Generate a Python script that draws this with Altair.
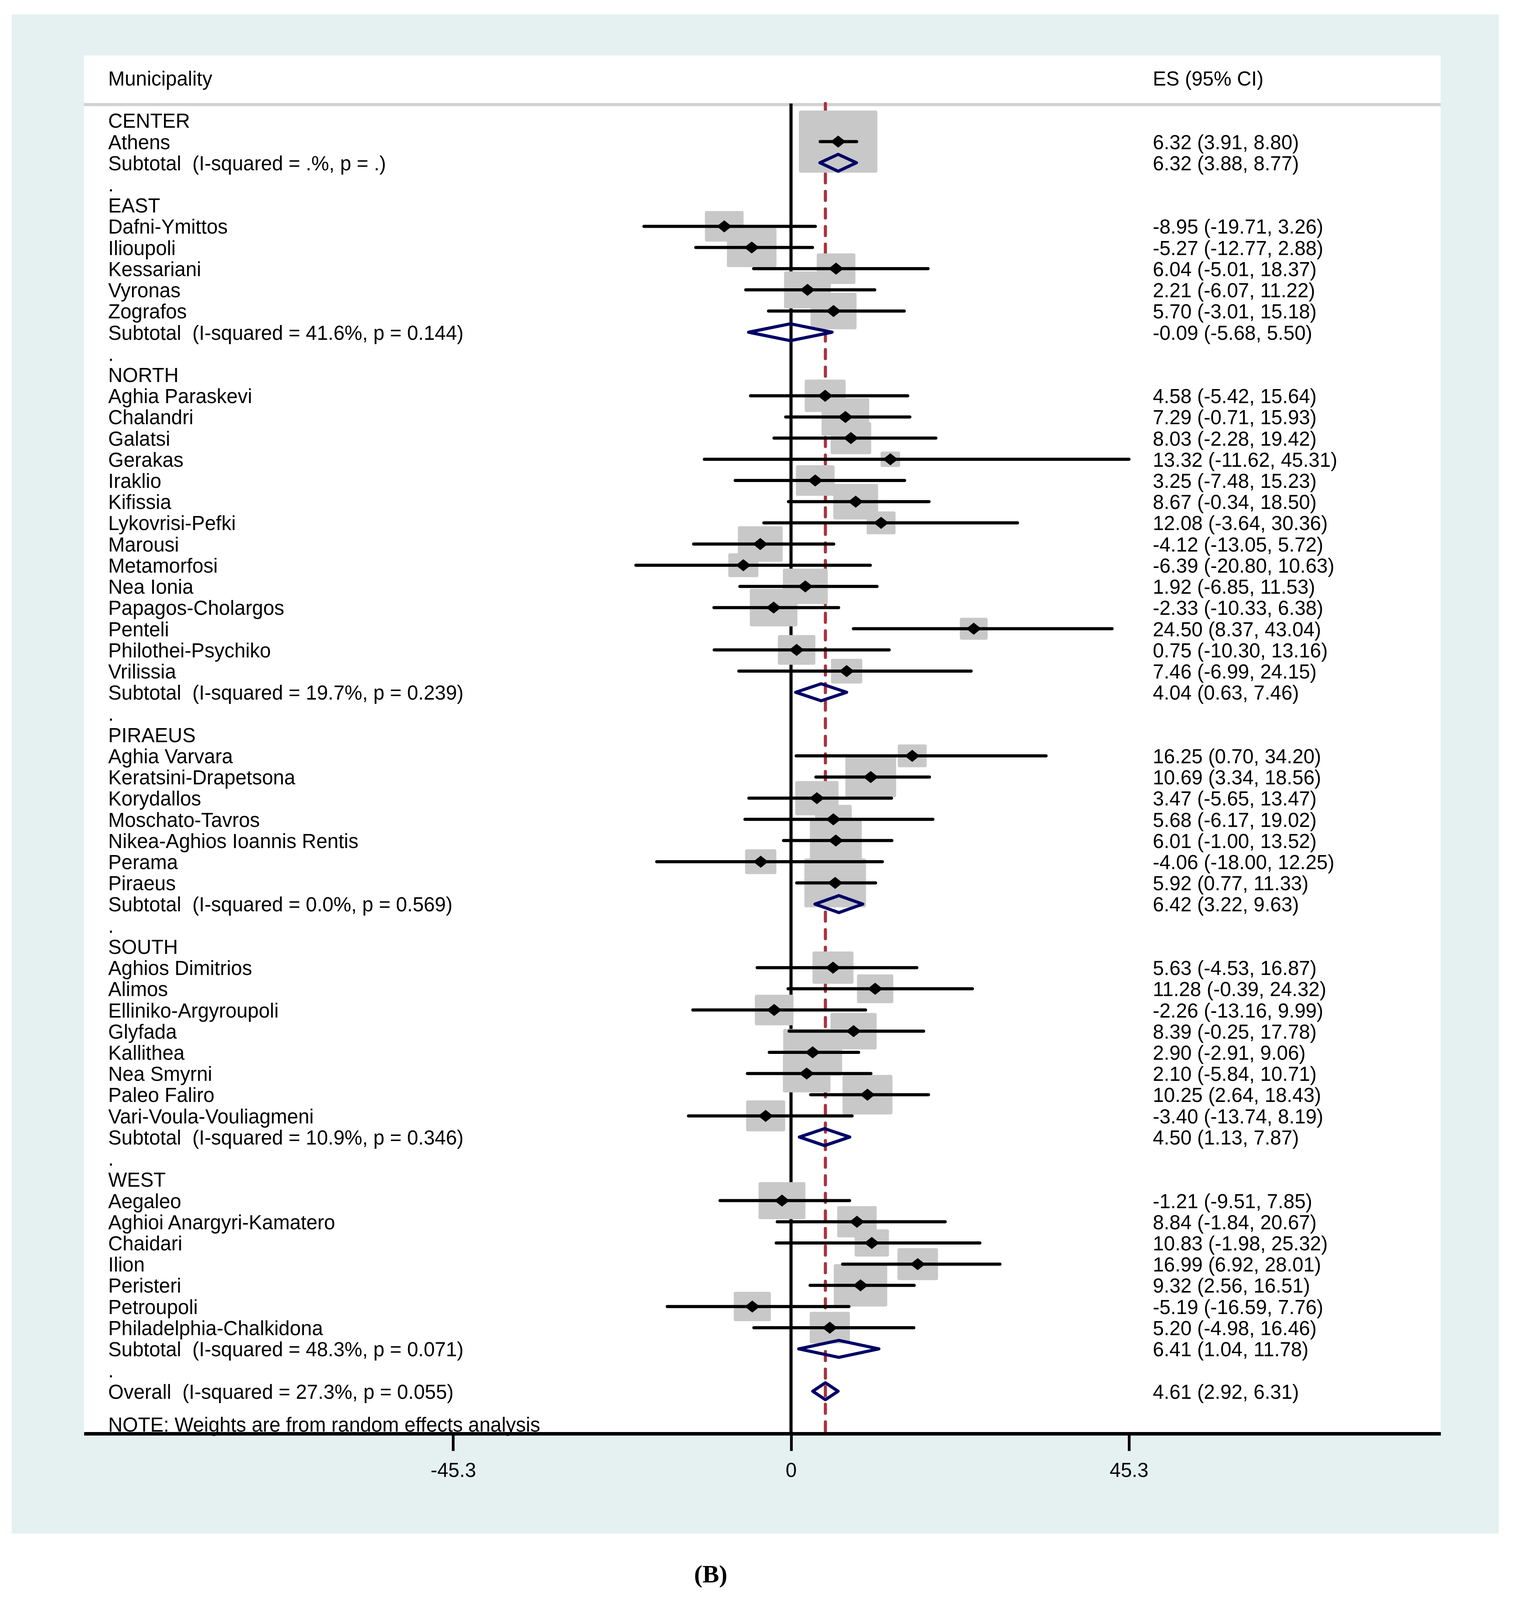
import math
import altair as alt
import pandas as pd

# ---------------- data ----------------
regions = ["CENTER", "EAST", "NORTH", "PIRAEUS", "SOUTH", "WEST"]

study_region = (["CENTER"] + ["EAST"] * 5 + ["NORTH"] * 14 + ["PIRAEUS"] * 7
                + ["SOUTH"] * 8 + ["WEST"] * 7)
study_name = [
    "Athens",
    "Dafni-Ymittos", "Ilioupoli", "Kessariani", "Vyronas", "Zografos",
    "Aghia Paraskevi", "Chalandri", "Galatsi", "Gerakas", "Iraklio", "Kifissia",
    "Lykovrisi-Pefki", "Marousi", "Metamorfosi", "Nea Ionia", "Papagos-Cholargos",
    "Penteli", "Philothei-Psychiko", "Vrilissia",
    "Aghia Varvara", "Keratsini-Drapetsona", "Korydallos", "Moschato-Tavros",
    "Nikea-Aghios Ioannis Rentis", "Perama", "Piraeus",
    "Aghios Dimitrios", "Alimos", "Elliniko-Argyroupoli", "Glyfada", "Kallithea",
    "Nea Smyrni", "Paleo Faliro", "Vari-Voula-Vouliagmeni",
    "Aegaleo", "Aghioi Anargyri-Kamatero", "Chaidari", "Ilion", "Peristeri",
    "Petroupoli", "Philadelphia-Chalkidona",
]
study_es = [
    6.32,
    -8.95, -5.27, 6.04, 2.21, 5.70,
    4.58, 7.29, 8.03, 13.32, 3.25, 8.67, 12.08, -4.12, -6.39, 1.92, -2.33, 24.50, 0.75, 7.46,
    16.25, 10.69, 3.47, 5.68, 6.01, -4.06, 5.92,
    5.63, 11.28, -2.26, 8.39, 2.90, 2.10, 10.25, -3.40,
    -1.21, 8.84, 10.83, 16.99, 9.32, -5.19, 5.20,
]
study_lo = [
    3.91,
    -19.71, -12.77, -5.01, -6.07, -3.01,
    -5.42, -0.71, -2.28, -11.62, -7.48, -0.34, -3.64, -13.05, -20.80, -6.85, -10.33, 8.37, -10.30, -6.99,
    0.70, 3.34, -5.65, -6.17, -1.00, -18.00, 0.77,
    -4.53, -0.39, -13.16, -0.25, -2.91, -5.84, 2.64, -13.74,
    -9.51, -1.84, -1.98, 6.92, 2.56, -16.59, -4.98,
]
study_hi = [
    8.80,
    3.26, 2.88, 18.37, 11.22, 15.18,
    15.64, 15.93, 19.42, 45.31, 15.23, 18.50, 30.36, 5.72, 10.63, 11.53, 6.38, 43.04, 13.16, 24.15,
    34.20, 18.56, 13.47, 19.02, 13.52, 12.25, 11.33,
    16.87, 24.32, 9.99, 17.78, 9.06, 10.71, 18.43, 8.19,
    7.85, 20.67, 25.32, 28.01, 16.51, 7.76, 16.46,
]
# estimated random-effects weights (%)
study_weight = [
    7.74,
    1.88, 3.09, 1.88, 2.76, 2.67,
    2.11, 2.85, 2.07, 0.48, 1.88, 2.53, 1.05, 2.53, 1.14, 2.53, 2.85, 0.97, 1.77, 1.23,
    1.05, 3.24, 2.36, 1.69, 3.39, 1.23, 4.78,
    2.11, 1.66, 1.88, 2.67, 4.37, 2.85, 3.14, 1.92,
    2.76, 1.96, 1.48, 2.07, 3.60, 1.73, 2.03,
]

sub_es = [6.32, -0.09, 4.04, 6.42, 4.50, 6.41]
sub_lo = [3.88, -5.68, 0.63, 3.22, 1.13, 1.04]
sub_hi = [8.77, 5.50, 7.46, 9.63, 7.87, 11.78]
sub_i2 = [None, 41.6, 19.7, 0.0, 10.9, 48.3]
sub_p = [None, 0.144, 0.239, 0.569, 0.346, 0.071]

overall_es, overall_lo, overall_hi = 4.61, 2.92, 6.31
overall_i2, overall_p = 27.3, 0.055

ticks = [-45.3, 0, 45.3]
header_left = "Municipality"
header_right = "ES (95% CI)"
note_text = "NOTE: Weights are from random effects analysis"
caption_text = "(B)"

# ---------------- layout / style constants ----------------
FONT = "Liberation Sans"
FS = 51
W, H = 3474, 3528                 # plot (white) area
X_DOMAIN = [-94.8, 87.1]
Y_DOMAIN = [-2.067, 63.0]         # row units, top -> bottom
PX_PER_X = W / (X_DOMAIN[1] - X_DOMAIN[0])
BOX_PX_PER_ROW = 68.58            # box side expressed in row units
BOX_AREA_100 = 521721.0           # px^2 of box area for 100 % weight
HEADER_ROW = -1
HEADER_LINE_ROW = 0.25
LINE_TOP_ROW = 0.2
NOTE_ROW = 62.55
DIAMOND_HALF = 0.4
PANEL = "#e5f1f1"
BOX = "#c8c8c8"
NAVY = "#000066"
RED = "#a9323b"


def fmt(v):
    return f"{v:.2f}"


def es_text(e, l, h):
    return f"{fmt(e)} ({fmt(l)}, {fmt(h)})"


# ---------------- build row table ----------------
label_rows = []
study_rows = []
pooled_rows = []
r = 1
for gi, reg in enumerate(regions):
    label_rows.append({"row": r, "label": reg, "es": ""})
    r += 1
    for i, name in enumerate(study_name):
        if study_region[i] != reg:
            continue
        side = math.sqrt(study_weight[i] / 100.0 * BOX_AREA_100)
        hx = side / 2 / PX_PER_X
        hr = side / 2 / BOX_PX_PER_ROW
        label_rows.append({"row": r, "label": name,
                           "es": es_text(study_es[i], study_lo[i], study_hi[i])})
        study_rows.append({"row": r, "es": study_es[i], "lo": study_lo[i],
                           "hi": study_hi[i], "w": study_weight[i],
                           "bx1": study_es[i] - hx, "bx2": study_es[i] + hx,
                           "by1": r - hr, "by2": r + hr})
        r += 1
    i2 = ".%" if sub_i2[gi] is None else f"{sub_i2[gi]:.1f}%"
    p = "." if sub_p[gi] is None else f"{sub_p[gi]:.3f}"
    label_rows.append({"row": r, "label": f"Subtotal \u00a0(I-squared = {i2}, p = {p})",
                       "es": es_text(sub_es[gi], sub_lo[gi], sub_hi[gi])})
    pooled_rows.append({"gid": reg, "row": r, "es": sub_es[gi],
                        "lo": sub_lo[gi], "hi": sub_hi[gi]})
    r += 1
    label_rows.append({"row": r, "label": ".", "es": ""})
    r += 1
label_rows.append({"row": r,
                   "label": f"Overall \u00a0(I-squared = {overall_i2:.1f}%, p = {overall_p:.3f})",
                   "es": es_text(overall_es, overall_lo, overall_hi)})
pooled_rows.append({"gid": "Overall", "row": r, "es": overall_es,
                    "lo": overall_lo, "hi": overall_hi})
label_rows.append({"row": HEADER_ROW, "label": header_left, "es": header_right})
label_rows.append({"row": NOTE_ROW, "label": note_text, "es": ""})

labels_df = pd.DataFrame(label_rows)
right_df = labels_df[labels_df["es"] != ""].reset_index(drop=True)
studies_df = pd.DataFrame(study_rows)

dia = []
for pr in pooled_rows:
    pts = [(pr["lo"], pr["row"]), (pr["es"], pr["row"] - DIAMOND_HALF),
           (pr["hi"], pr["row"]), (pr["es"], pr["row"] + DIAMOND_HALF),
           (pr["lo"], pr["row"])]
    for k, (xv, yv) in enumerate(pts):
        dia.append({"gid": pr["gid"], "pt": k, "x": xv, "y": yv})
dia_df = pd.DataFrame(dia)

vlines_df = pd.DataFrame({"x": [0.0], "y": [LINE_TOP_ROW], "y2": [Y_DOMAIN[1]]})
red_df = pd.DataFrame({"x": [overall_es], "y": [LINE_TOP_ROW], "y2": [Y_DOMAIN[1]]})
hline_df = pd.DataFrame({"y": [HEADER_LINE_ROW]})
one = pd.DataFrame({"t": [caption_text]})

# ---------------- scales ----------------
xs = alt.Scale(domain=X_DOMAIN, nice=False, zero=False)
ys = alt.Scale(domain=Y_DOMAIN, nice=False, zero=False, reverse=True)
XAX = alt.Axis(values=ticks, title=None, grid=False, zindex=2,
               domainColor="black", domainWidth=9, tickColor="black", tickWidth=7,
               tickSize=44, labelFont=FONT, labelFontSize=FS, labelColor="black",
               labelPadding=26, labelFlush=False, labelOverlap=False,
               labelExpr="datum.value < 0 ? '-' + format(-datum.value, '.1f') : "
                         "(datum.value == 0 ? '0' : format(datum.value, '.1f'))")

# ---------------- layers ----------------
panel = alt.Chart(one).mark_rect(color=PANEL).encode(
    x=alt.value(-185), x2=alt.value(W + 149), y=alt.value(-105), y2=alt.value(H + 256))
white = alt.Chart(one).mark_rect(color="white").encode(
    x=alt.value(0), x2=alt.value(W), y=alt.value(0), y2=alt.value(H))

hline = alt.Chart(hline_df).mark_rule(color="#d2d2d2", strokeWidth=8).encode(
    x=alt.value(0), x2=alt.value(W), y=alt.Y("y:Q", scale=ys, axis=None))

zero_line = alt.Chart(vlines_df).mark_rule(color="black", strokeWidth=8).encode(
    x=alt.X("x:Q", scale=xs, axis=XAX),
    y=alt.Y("y:Q", scale=ys, axis=None), y2="y2:Q")

red_line = alt.Chart(red_df).mark_rule(color=RED, strokeWidth=8, strokeDash=[23, 22],
                                       strokeCap="round").encode(
    x=alt.X("x:Q", scale=xs, axis=XAX),
    y=alt.Y("y:Q", scale=ys, axis=None), y2="y2:Q")

boxes = alt.Chart(studies_df).mark_rect(color=BOX, cornerRadius=4).encode(
    x=alt.X("bx1:Q", scale=xs, axis=XAX), x2="bx2:Q",
    y=alt.Y("by1:Q", scale=ys, axis=None), y2="by2:Q")

ci = alt.Chart(studies_df).mark_rule(color="black", strokeWidth=8, strokeCap="round").encode(
    x=alt.X("lo:Q", scale=xs, axis=XAX), x2="hi:Q",
    y=alt.Y("row:Q", scale=ys, axis=None))

pts = alt.Chart(studies_df).mark_point(shape="M-1,0L0,-0.8L1,0L0,0.8Z", filled=True,
                                       color="black", size=1500, opacity=1).encode(
    x=alt.X("es:Q", scale=xs, axis=XAX),
    y=alt.Y("row:Q", scale=ys, axis=None))

diamonds = alt.Chart(dia_df).mark_line(color=NAVY, strokeWidth=8, strokeJoin="round",
                                       strokeCap="round").encode(
    x=alt.X("x:Q", scale=xs, axis=XAX),
    y=alt.Y("y:Q", scale=ys, axis=None),
    detail="gid:N", order=alt.Order("pt:Q"))

left_text = alt.Chart(labels_df).mark_text(align="left", baseline="middle", dy=4,
                                           font=FONT, fontSize=FS, color="black").encode(
    x=alt.value(62), y=alt.Y("row:Q", scale=ys, axis=None), text="label:N")

right_text = alt.Chart(right_df).mark_text(align="left", baseline="middle", dy=4,
                                           font=FONT, fontSize=FS, color="black").encode(
    x=alt.value(2737), y=alt.Y("row:Q", scale=ys, axis=None), text="es:N")

caption = alt.Chart(one).mark_text(align="center", baseline="middle", font="Liberation Serif",
                                   fontWeight="bold", fontSize=64, color="black").encode(
    x=alt.value(1605), y=alt.value(H + 362), text="t:N")

chart = alt.layer(
    panel, white, hline, zero_line, red_line, boxes, ci, pts, diamonds,
    left_text, right_text, caption
).properties(
    width=W, height=H,
    padding={"left": 207, "top": 134, "right": 185, "bottom": 418},
    autosize=alt.AutoSizeParams(type="none"),
).configure(
    background="white",
).configure_view(
    stroke=None,
)

chart.save("out.html", embed_options={"renderer": "svg", "actions": False})
